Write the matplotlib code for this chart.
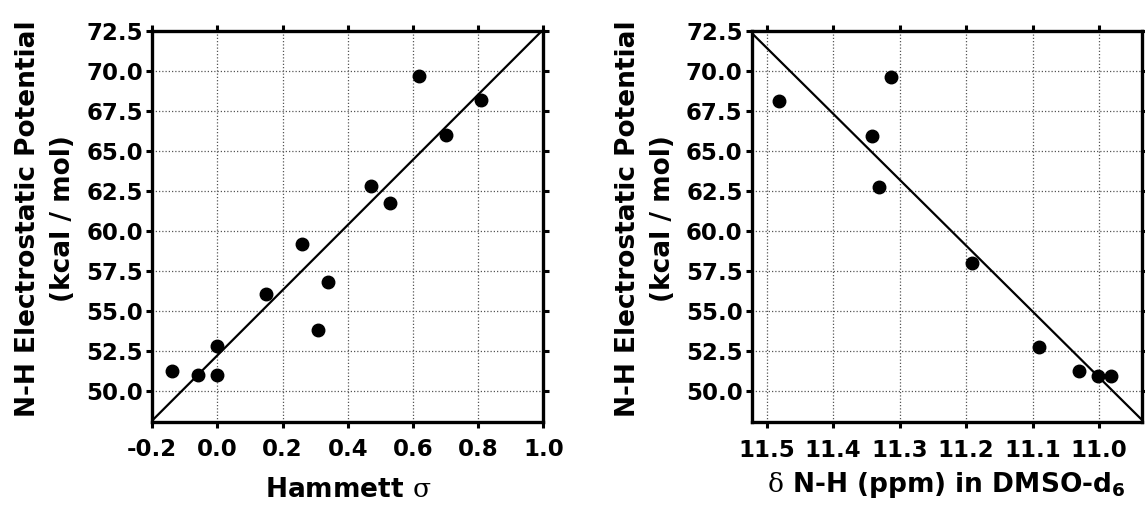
import numpy as np
import matplotlib
matplotlib.use("Agg")
import matplotlib.pyplot as plt

plt.rcParams['font.family'] = ['DejaVu Sans']
plt.rcParams['font.weight'] = 'bold'
plt.rcParams['mathtext.fontset'] = 'custom'
plt.rcParams['mathtext.rm'] = 'DejaVu Sans:bold'
plt.rcParams['mathtext.sf'] = 'DejaVu Serif:normal'
plt.rcParams['mathtext.default'] = 'rm'

# Hammett sigma constants vs. computed N-H electrostatic potential
hammett_sigma = [-0.14, -0.06, 0.00, 0.00, 0.15, 0.26, 0.31, 0.34, 0.47, 0.53, 0.62, 0.70, 0.81]
esp_hammett = [51.25, 50.94, 50.94, 52.78, 56.06, 59.13, 53.76, 56.79, 62.78, 61.70, 69.64, 65.98, 68.17]

# N-H chemical shift (DMSO-d6) vs. electrostatic potential
nh_shift = [11.482, 11.313, 11.342, 11.331, 11.191, 11.091, 11.031, 11.001, 10.982]
esp_shift = [68.13, 69.60, 65.94, 62.73, 57.98, 52.77, 51.27, 50.96, 50.96]

esp_ticks = [50.0, 52.5, 55.0, 57.5, 60.0, 62.5, 65.0, 67.5, 70.0, 72.5]
sigma_ticks = [-0.2, 0.0, 0.2, 0.4, 0.6, 0.8, 1.0]
shift_ticks = [11.5, 11.4, 11.3, 11.2, 11.1, 11.0]

ylabel = "N-H Electrostatic Potential\n(kcal / mol)"
TICK_FS = 16.5
LABEL_FS = 19

fig = plt.figure(figsize=(11.45, 5.08), dpi=100)
ax1 = fig.add_axes([0.1330, 0.1699, 0.3415, 0.7697])
ax2 = fig.add_axes([0.6565, 0.1687, 0.3406, 0.7703])


def style(ax, xticks, xlim):
    ax.set_xlim(*xlim)
    ax.set_ylim(48.05, 72.5)
    ax.set_xticks(xticks)
    ax.set_yticks(esp_ticks)
    ax.set_xticklabels([f"{t:.1f}" for t in xticks])
    ax.set_yticklabels([f"{t:.1f}" for t in esp_ticks])
    ax.grid(True, color='#555555', linestyle=(0, (1, 1.6)), linewidth=0.9)
    ax.set_axisbelow(True)
    for s in ax.spines.values():
        s.set_linewidth(2.4)
        s.set_zorder(5)
    ax.tick_params(direction='out', length=4.5, width=2.2, top=True, right=True,
                   labelsize=TICK_FS)
    ax.tick_params(axis='y', pad=2)
    ax.tick_params(axis='x', pad=7.5)
    ax.set_ylabel(ylabel, fontsize=LABEL_FS, fontweight='bold', linespacing=1.45)
    ax.yaxis.set_label_coords(-0.194, 0.52)


def scatter_fit(ax, x, y):
    x = np.asarray(x)
    y = np.asarray(y)
    slope, intercept = np.polyfit(x, y, 1)
    xl = np.array(ax.get_xlim())
    ax.plot(xl, slope * xl + intercept, color='black', linewidth=1.6,
            zorder=3, clip_on=True)
    ax.plot(x, y, 'o', color='black', markersize=9, zorder=4, clip_on=False)


style(ax1, sigma_ticks, (-0.2, 1.0))
scatter_fit(ax1, hammett_sigma, esp_hammett)
ax1.set_xlabel(r"Hammett $\mathsf{\sigma}$", fontsize=LABEL_FS, fontweight='bold', labelpad=11)

style(ax2, shift_ticks, (11.5225, 10.936))
scatter_fit(ax2, nh_shift, esp_shift)
ax2.set_xlabel(r"$\mathsf{\delta}$ N-H (ppm) in DMSO-d$_6$", fontsize=LABEL_FS,
               fontweight='bold', labelpad=6)

fig.savefig("out.png", dpi=100)
